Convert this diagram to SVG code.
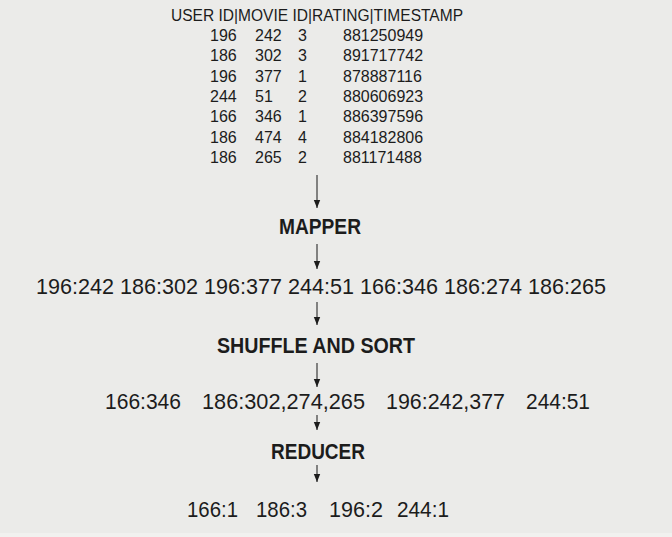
<svg xmlns="http://www.w3.org/2000/svg" width="672" height="537" viewBox="0 0 672 537">
<style>
.t{font-family:"Liberation Sans",Arial,sans-serif;fill:#1c1c1c}
.s{font-size:16px}
.m{font-size:22px}
.b{font-size:21.5px;font-weight:bold}
.c line{stroke:#2a2a2a;stroke-width:1.1}
</style>
<defs>
<marker id="ah" viewBox="0 0 8 8" refX="8" refY="4" markerWidth="8" markerHeight="8" markerUnits="userSpaceOnUse" orient="auto">
<path d="M0,0.8 L8,4 L0,7.2 Z" fill="#1c1c1c"/>
</marker>
</defs>
<rect width="672" height="537" fill="#ebebe9"/>
<rect y="533" width="672" height="4" fill="#f1f1ef"/>

<g id="table" class="t s">
<text x="171" y="21" textLength="292" lengthAdjust="spacingAndGlyphs">USER ID|MOVIE ID|RATING|TIMESTAMP</text>
<text y="41"><tspan x="210">196</tspan><tspan x="255">242</tspan><tspan x="298">3</tspan><tspan x="343">881250949</tspan></text>
<text y="61"><tspan x="210">186</tspan><tspan x="255">302</tspan><tspan x="298">3</tspan><tspan x="343">891717742</tspan></text>
<text y="81.5"><tspan x="210">196</tspan><tspan x="255">377</tspan><tspan x="298">1</tspan><tspan x="343">878887116</tspan></text>
<text y="102"><tspan x="210">244</tspan><tspan x="255">51</tspan><tspan x="298">2</tspan><tspan x="343">880606923</tspan></text>
<text y="122"><tspan x="210">166</tspan><tspan x="255">346</tspan><tspan x="298">1</tspan><tspan x="343">886397596</tspan></text>
<text y="142.5"><tspan x="210">186</tspan><tspan x="255">474</tspan><tspan x="298">4</tspan><tspan x="343">884182806</tspan></text>
<text y="163"><tspan x="210">186</tspan><tspan x="255">265</tspan><tspan x="298">2</tspan><tspan x="343">881171488</tspan></text>
</g>

<g id="mapper" class="t b">
<text x="279" y="234" textLength="82" lengthAdjust="spacingAndGlyphs">MAPPER</text>
</g>

<g id="mapped" class="t m">
<text x="36" y="294" textLength="570" lengthAdjust="spacingAndGlyphs">196:242 186:302 196:377 244:51 166:346 186:274 186:265</text>
</g>

<g id="shuffle" class="t b">
<text x="217" y="353" textLength="198" lengthAdjust="spacingAndGlyphs">SHUFFLE AND SORT</text>
</g>

<g id="grouped" class="t m">
<text x="105" y="409" textLength="76" lengthAdjust="spacingAndGlyphs">166:346</text>
<text x="202" y="409" textLength="163" lengthAdjust="spacingAndGlyphs">186:302,274,265</text>
<text x="386" y="409" textLength="119" lengthAdjust="spacingAndGlyphs">196:242,377</text>
<text x="526" y="409" textLength="64" lengthAdjust="spacingAndGlyphs">244:51</text>
</g>

<g id="reducer" class="t b">
<text x="271" y="459" textLength="94" lengthAdjust="spacingAndGlyphs">REDUCER</text>
</g>

<g id="result" class="t m">
<text x="187" y="517" textLength="51" lengthAdjust="spacingAndGlyphs">166:1</text>
<text x="256" y="517" textLength="51" lengthAdjust="spacingAndGlyphs">186:3</text>
<text x="329" y="517" textLength="54" lengthAdjust="spacingAndGlyphs">196:2</text>
<text x="397" y="517" textLength="52" lengthAdjust="spacingAndGlyphs">244:1</text>
</g>

<g id="connectors" class="c">
<line x1="317" y1="175" x2="317" y2="208" marker-end="url(#ah)"/>
<line x1="317" y1="244" x2="317" y2="269" marker-end="url(#ah)"/>
<line x1="317" y1="302" x2="317" y2="325" marker-end="url(#ah)"/>
<line x1="317" y1="363" x2="317" y2="387" marker-end="url(#ah)"/>
<line x1="317" y1="415" x2="317" y2="430" marker-end="url(#ah)"/>
<line x1="317" y1="465" x2="317" y2="482" marker-end="url(#ah)"/>
</g>
</svg>
